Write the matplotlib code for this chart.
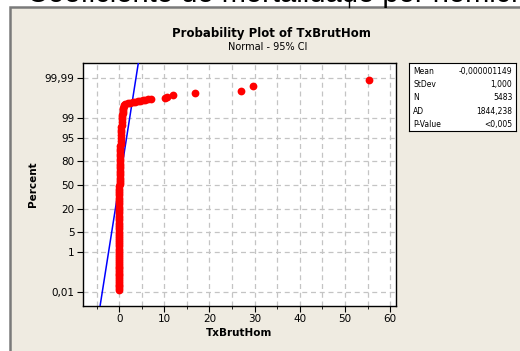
from statistics import NormalDist
import numpy as np
import matplotlib
matplotlib.use("Agg")
import matplotlib.pyplot as plt
from matplotlib.patches import Rectangle
from matplotlib.lines import Line2D

# values (x value, cumulative percent), row by row
tx_values = [-0.12, -0.12, -0.12, -0.12, -0.11, -0.11, -0.11, -0.11, -0.10, -0.10,
             -0.10, -0.10, -0.09, -0.09, -0.09, -0.09, -0.08, -0.08, -0.08, -0.07,
             -0.07, -0.06, -0.06, -0.05, -0.05, -0.04, -0.04, -0.03, -0.03, -0.02,
             -0.02, -0.01, -0.01, 0.00, 0.00, 0.01, 0.01, 0.02, 0.02, 0.03,
             0.03, 0.04, 0.04, 0.05, 0.05, 0.06, 0.06, 0.07, 0.07, 0.08,
             0.08, 0.09, 0.09, 0.10, 0.10, 0.11, 0.12, 0.13, 0.14, 0.15,
             0.16, 0.17, 0.19, 0.21, 0.23, 0.25, 0.27, 0.29, 0.32, 0.35,
             0.38, 0.41, 0.44, 0.47, 0.50, 0.54, 0.58, 0.62, 0.66, 0.70,
             0.75, 0.80, 0.86, 0.92, 1.0, 1.15, 1.4, 1.9, 2.5, 3.0,
             3.5, 4.1, 4.6, 5.2, 5.8, 6.4, 7.1,
             10.2, 10.7, 12.0, 16.8, 27.0, 29.6, 55.3]
pct_values = [0.0126, 0.016, 0.02, 0.025, 0.03, 0.04, 0.05, 0.065, 0.08, 0.1,
              0.12, 0.15, 0.18, 0.22, 0.27, 0.33, 0.4, 0.5, 0.6, 0.75,
              0.9, 1.1, 1.3, 1.6, 1.9, 2.3, 2.7, 3.2, 3.8, 4.5,
              5.2, 6.1, 7.0, 8.2, 9.5, 11.0, 12.5, 14.0, 16.0, 18.0,
              20.0, 22.5, 25.0, 27.5, 30.0, 33.0, 36.0, 39.0, 42.0, 45.0,
              48.0, 51.0, 54.0, 57.0, 60.0, 63.0, 66.0, 69.0, 72.0, 74.5,
              77.0, 79.5, 82.0, 84.0, 86.0, 88.0, 89.5, 91.0, 92.5, 93.8,
              95.0, 95.9, 96.7, 97.3, 97.8, 98.2, 98.6, 98.9, 99.1, 99.25,
              99.4, 99.5, 99.6, 99.65, 99.7, 99.73, 99.76, 99.775, 99.79, 99.80,
              99.81, 99.82, 99.83, 99.84, 99.85, 99.86, 99.87,
              99.878, 99.895, 99.915, 99.934, 99.95, 99.97, 99.987]

mean = -0.000001149
stdev = 1.000
n_obs = 5483
ad_stat = "1844,238"
p_value = "<0,005"

y_ticks = [0.01, 1, 5, 20, 50, 80, 95, 99, 99.99]
y_labels = ["0,01", "1", "5", "20", "50", "80", "95", "99", "99,99"]
x_ticks = [0, 10, 20, 30, 40, 50, 60]

nd = NormalDist()
_ppf = np.vectorize(lambda v: nd.inv_cdf(v / 100.0), otypes=[float])
_cdf = np.vectorize(lambda v: nd.cdf(v) * 100.0, otypes=[float])


def fwd(p):
    p = np.clip(np.asarray(p, dtype=float), 1e-7, 100 - 1e-7)
    return _ppf(p)


def inv(z):
    return _cdf(np.asarray(z, dtype=float))


plt.rcParams['font.family'] = ['DejaVu Sans']
fig = plt.figure(figsize=(5.2, 3.51), dpi=100)
fig.patch.set_facecolor('white')

# grey panel behind the graph
panel = Rectangle((10 / 520, -0.02), 1.0, 1 - 6.5 / 351 + 0.02, transform=fig.transFigure,
                  facecolor='#efebe1', edgecolor='#7a7a7a', lw=1.8, zorder=-5)
fig.patches.append(panel)
fig.lines.append(Line2D([349 / 520, 349 / 520], [1, 1 - 7 / 351], transform=fig.transFigure,
                        color='black', lw=1))

# cut-off heading above the panel
fig.text(27 / 520, 1 - 1.5 / 351, "Coeficiente de mortalidade por homicídios",
         fontsize=21, family='Liberation Sans', va='baseline', ha='left')

ax = fig.add_axes([83 / 520, 1 - 306 / 351, 313 / 520, 243 / 351])
ax.set_facecolor('white')
ax.set_yscale('function', functions=(fwd, inv))
ax.set_ylim(float(inv(-4.22)), float(inv(4.25)))
ax.set_xlim(-8, 61.3)

ax.set_yticks(y_ticks)
ax.set_yticklabels(y_labels)
ax.yaxis.set_minor_locator(matplotlib.ticker.NullLocator())
ax.set_xticks(x_ticks)
ax.set_xticks(np.arange(-5, 61, 5), minor=True)

ax.grid(True, which='both', axis='x', color='#c4c4c4', ls=(0, (4, 3)), lw=0.9)
ax.grid(True, which='major', axis='y', color='#c4c4c4', ls=(0, (4, 3)), lw=0.9)
ax.set_axisbelow(True)

ax.tick_params(axis='both', which='major', labelsize=7.5, length=4, width=0.8, pad=2)
ax.tick_params(axis='x', which='minor', length=2.5, width=0.6)
for s in ax.spines.values():
    s.set_linewidth(1.0)

# fitted normal line
line_pct = inv(np.array([-4.3, 4.3]))
ax.plot(mean + stdev * fwd(line_pct), line_pct, color='#0000ff', lw=1.1, zorder=3)

ax.plot(tx_values, pct_values, 'o', color='#ff0000', ms=5.6, mew=0, zorder=4, clip_on=False)

ax.set_xlabel("TxBrutHom", fontsize=7.5, fontweight='bold', labelpad=3)
ax.set_ylabel("Percent", fontsize=7.5, fontweight='bold', labelpad=5)

fig.text(271 / 520, 1 - 33 / 351, "Probability Plot of TxBrutHom", fontsize=8.5,
         fontweight='bold', ha='center', va='center')
fig.text(268 / 520, 1 - 47 / 351, "Normal - 95% CI", fontsize=7, ha='center', va='center')

# statistics box
box = fig.add_axes([409 / 520, 1 - 131 / 351, 107 / 520, 68 / 351])
box.set_xticks([])
box.set_yticks([])
box.set_facecolor('white')
for s in box.spines.values():
    s.set_linewidth(0.8)
stat_names = ["Mean", "StDev", "N", "AD", "P-Value"]
stat_vals = ["-0,000001149", "1,000", str(n_obs), ad_stat, p_value]
rows_y = [0.882, 0.687, 0.49, 0.294, 0.098]
for name, val, yy in zip(stat_names, stat_vals, rows_y):
    box.text(0.04, yy, name, fontsize=5.5, ha='left', va='center', transform=box.transAxes)
    box.text(0.965, yy, val, fontsize=5.5, ha='right', va='center', transform=box.transAxes)

fig.savefig("out.png", dpi=100)
